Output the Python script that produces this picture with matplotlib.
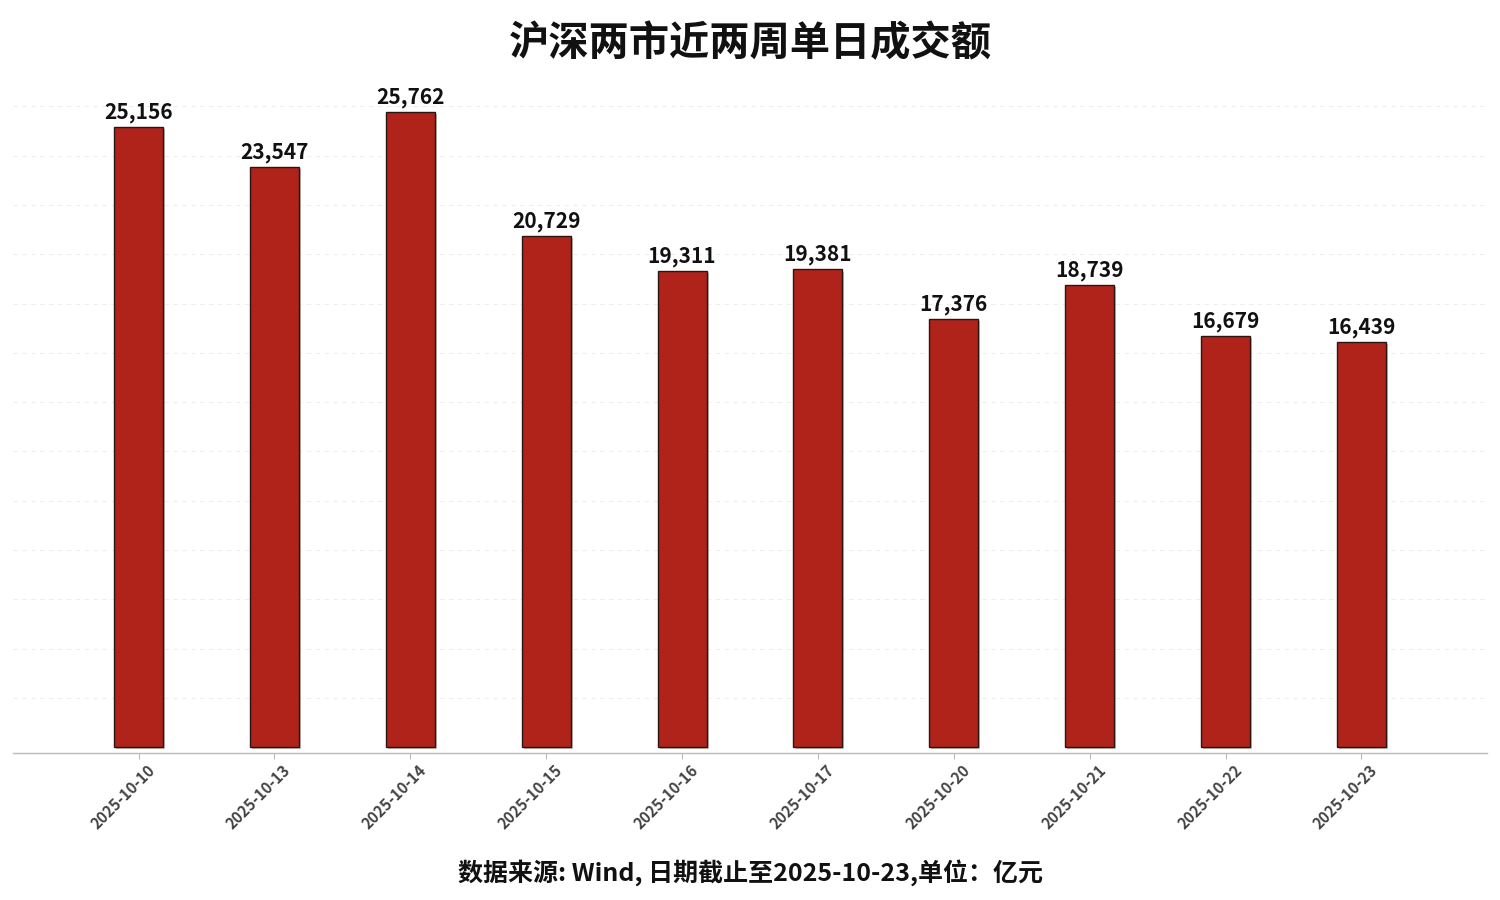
import matplotlib
matplotlib.use('Agg')
from matplotlib import pyplot as plt
import matplotlib.patheffects as pe
import matplotlib.transforms as mtransforms

plt.rcParams['font.family'] = ['Noto Sans CJK SC', 'DejaVu Sans']

# data
dates = ['2025-10-10', '2025-10-13', '2025-10-14', '2025-10-15', '2025-10-16',
         '2025-10-17', '2025-10-20', '2025-10-21', '2025-10-22', '2025-10-23']
turnover = [25156, 23547, 25762, 20729, 19311, 19381, 17376, 18739, 16679, 16439]

fig = plt.figure(figsize=(15, 9), dpi=100)
ax = fig.add_axes([0.009, 0.163, 0.982, 0.74])

x = list(range(len(dates)))
bars = ax.bar(x, turnover, width=0.36, color='#B0231A', edgecolor='#2a1512', linewidth=1.0, zorder=3)
for b in bars:
    b.set_path_effects([pe.SimplePatchShadow(offset=(1.5, -1.5), shadow_rgbFace='#999999', alpha=0.6),
                        pe.Normal()])

for xi, v in zip(x, turnover):
    ax.annotate(f'{v:,}', (xi, v), xytext=(0, 3), textcoords='offset points',
                ha='center', va='bottom', fontsize=15, fontweight='bold', color='#111111', zorder=4)

ax.set_xlim(-0.92, 9.92)
ax.set_ylim(-245, 26770)
ax.set_yticks(range(2000, 27000, 2000))
ax.yaxis.grid(True, linestyle=(0, (4, 4)), color='#eeeeee', linewidth=0.8, zorder=0)
ax.tick_params(axis='y', left=False, labelleft=False)

ax.set_xticks(x)
ax.set_xticklabels(dates, rotation=45, ha='right', rotation_mode='anchor',
                   fontsize=11, fontweight='bold', color='#444444')
ax.tick_params(axis='x', length=4, color='#bbbbbb', pad=2)
# shift the rotated labels a little to the right of the ticks
shift = mtransforms.ScaledTranslation(8 / 100, 0, fig.dpi_scale_trans)
for lbl in ax.get_xticklabels():
    lbl.set_transform(lbl.get_transform() + shift)

for s in ['top', 'right', 'left']:
    ax.spines[s].set_visible(False)
ax.spines['bottom'].set_color('#bbbbbb')
ax.spines['bottom'].set_linewidth(1.0)

fig.text(0.5, 0.951, '沪深两市近两周单日成交额', ha='center', va='center',
         fontsize=29, fontweight='bold', color='#111111')
fig.text(0.5, 0.03, '数据来源: Wind, 日期截止至2025-10-23,单位：亿元', ha='center', va='center',
         fontsize=18, fontweight='bold', color='#111111')

fig.savefig('out.png', dpi=100)
